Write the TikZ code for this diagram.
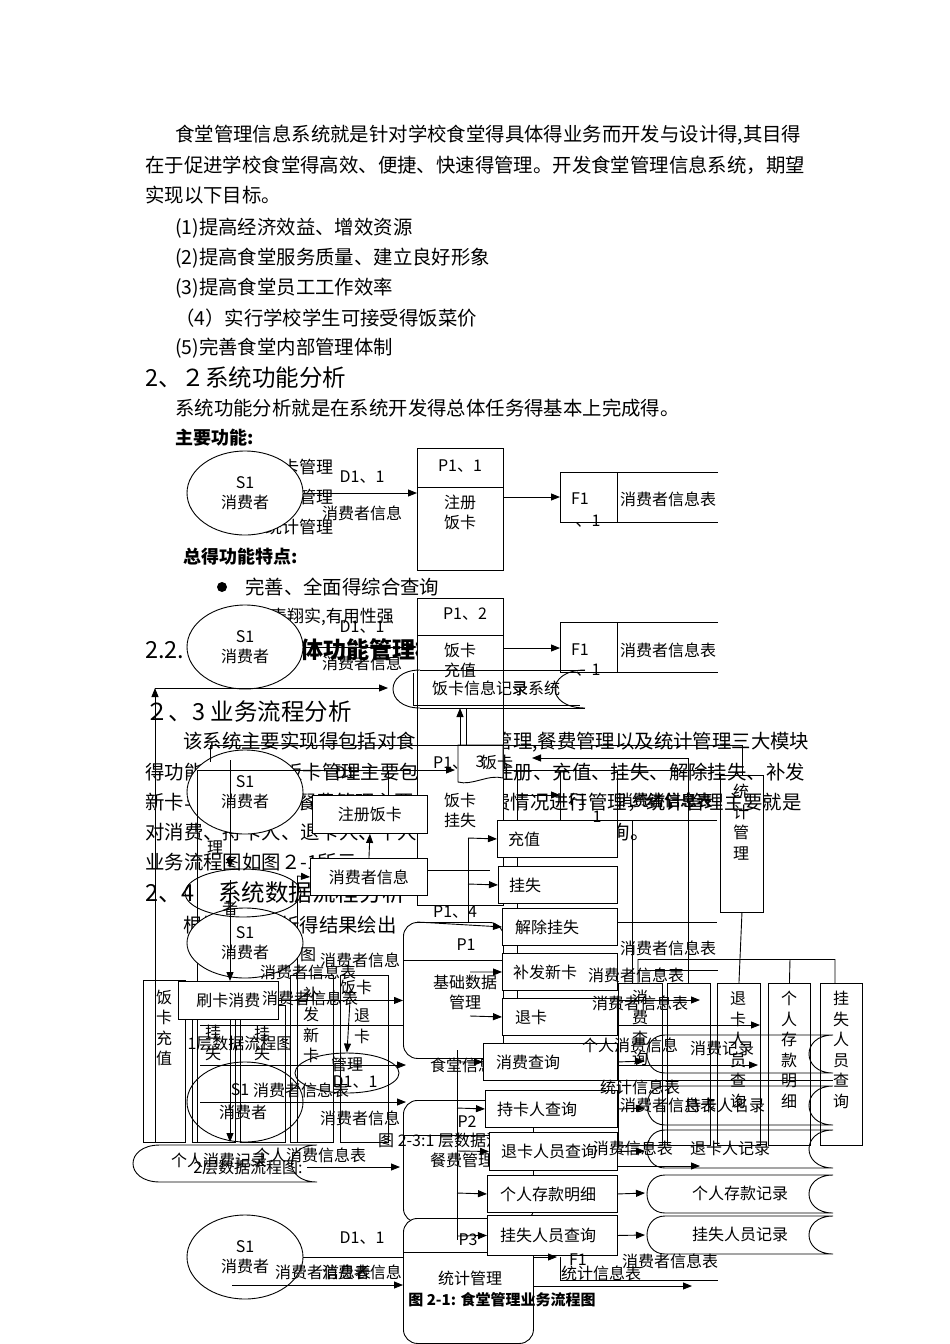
\documentclass[tikz,border=0pt]{standalone}
\usepackage{fontspec}
\setmainfont{Noto Sans CJK SC}
\usetikzlibrary{arrows.meta,shapes.geometric}
\tikzset{
 body/.style={anchor=west,inner sep=0pt,font=\fontsize{19.4}{20}\selectfont},
 head/.style={anchor=west,inner sep=0pt,font=\fontsize{23.5}{24}\selectfont},
 lab/.style={inner sep=0pt,font=\fontsize{16}{20}\selectfont,align=center},
 labw/.style={lab,anchor=west},
 labe/.style={lab,anchor=east},
 vt/.style={lab,font=\fontsize{16}{20.5}\selectfont},
 ln/.style={line width=0.9pt},
 arr/.style={ln,-{Triangle[length=9pt,width=7pt]}},
 wb/.style={draw,ln,fill=white,anchor=north west,inner sep=0pt},
 ob/.style={draw,ln,anchor=north west,inner sep=0pt},
 ell/.style={ellipse,draw,ln,fill=white,minimum width=116,minimum height=84,inner sep=0pt,align=center,font=\fontsize{16}{20}\selectfont},
 oell/.style={ell,fill=none},
 rbox/.style={draw,ln,rounded corners=14pt,anchor=north west,inner sep=0pt,fill=white},
}
\newcommand\BX[5]{\node[wb,minimum width=#4,minimum height=#5] (#1) at (#2,#3) {};}
\newcommand\OB[5]{\node[ob,minimum width=#4,minimum height=#5] (#1) at (#2,#3) {};}
\newcommand\STORE[2]{\draw[ln] (665,#1) .. controls (641,#1) and (641,#2) .. (665,#2) (665,#1) -- (833,#1) (665,#2) -- (833,#2) (833,#1) .. controls (801,#1) and (801,#2) .. (833,#2);}
\begin{document}
\begin{tikzpicture}[x=1pt,y=-1pt]
\fill[white] (0,0) rectangle (950,1344);
\path[use as bounding box] (0,0) rectangle (950,1344);

% ---------------- body text
\node[body] (t1) at (175,135) {食堂管理信息系统就是针对学校食堂得具体得业务而开发与设计得,其目得};
\node[body] (t2) at (145,165) {在于促进学校食堂得高效、便捷、快速得管理。开发食堂管理信息系统，期望};
\node[body] (t3) at (145,195) {实现以下目标。};
\node[body] (t4) at (175,228) {(1)提高经济效益、增效资源};
\node[body] (t5) at (175,258) {(2)提高食堂服务质量、建立良好形象};
\node[body] (t6) at (175,288) {(3)提高食堂员工工作效率};
\node[body] (t7) at (175,318) {（4）实行学校学生可接受得饭菜价};
\node[body] (t8) at (175,348) {(5)完善食堂内部管理体制};
\node[head] (h1) at (145,378) {2、２系统功能分析};
\node[body] (t9) at (175,408) {系统功能分析就是在系统开发得总体任务得基本上完成得。};
\node[body,font=\fontsize{18}{20}\selectfont\bfseries] (t10) at (175,438) {主要功能:};
\node[labw,font=\fontsize{17}{20}\selectfont] (m1) at (265,467) {饭卡管理};
\node[labw,font=\fontsize{17}{20}\selectfont] (m2) at (265,497) {餐费管理};
\node[labw,font=\fontsize{17}{20}\selectfont] (m3) at (265,527) {统计管理};
\node[body,font=\fontsize{18}{20}\selectfont\bfseries] (t11) at (183,557) {总得功能特点:};
\fill (222,587) circle [radius=5];
\node[body] (t12) at (245,587) {完善、全面得综合查询};
\node[body,font=\fontsize{17}{20}\selectfont] (t13) at (270,617) {表翔实,有用性强};
\node[head] (h2a) at (145,650) {2.2.};
\node[head,font=\fontsize{23}{24}\selectfont\bfseries] (h2b) at (300,650) {体功能管理模};
\node[head] (h3) at (145,712) {２、3 业务流程分析};
\node[body] (t14) at (183,742) {该系统主要实现得包括对食堂得饭卡管理,餐费管理以及统计管理三大模块};
\node[body] (t15a) at (145,772) {得功能。其中};
\node[body] (t15b) at (283,772) {饭卡管理主要包括};
\node[body,anchor=east] (t15c) at (805,772) {注册、充值、挂失、解除挂失、补发};
\node[body] (t16a) at (145,802) {新卡与退卡，};
\node[body] (t16b) at (297,802) {餐费管理主要就是对消费情况进行管理，统计管理主要就是};
\node[body] (t17) at (145,832) {对消费、持卡人、退卡人、个人存款、挂失人员等得查询。};
\node[body] (t18) at (145,862) {业务流程图如图２-1所示。};
\node[head] (h4) at (145,893) {2、4　系统数据流程分析};
\node[body] (t19) at (183,925) {根据系统分析得结果绘出};

% ---------------- diagram P1.1
\node[ell] (e1) at (245,493) {S1\\消费者};
\BX{p11}{417}{448}{86}{122}
\draw[ln] (417,487) -- (503,487);
\node[lab] (p11a) at (460,466) {P1、1};
\node[lab] (p11b) at (460,512) {注册\\饭卡};
\coordinate (f1a) at (560,497);
\draw[ln] (718,472) -- (560,472) -- (560,522) -- (718,522) (617,472) -- (617,522);
\draw[arr] (e1.east) -- (e1.east -| p11.west);
\draw[arr] (p11.east |- f1a) -- (f1a);
\node[lab] (d11) at (362,477) {D1、1};
\node[lab] (c11) at (362,513) {消费者信息};
\node[lab] (f11) at (580,499) {F1};
\node[lab] (f11b) at (588,521) {、1};
\node[lab] (f11c) at (668,499) {消费者信息表};

% ---------------- diagram P1.2
\node[ell] (e2) at (245,647) {S1\\消费者};
\BX{p12}{417}{598}{86}{147}
\draw[ln] (417,635) -- (503,635);
\node[lab] (p12a) at (465,614) {P1、2};
\node[lab] (p12b) at (460,660) {饭卡\\充值};
\coordinate (f1b) at (560,648);
\draw[ln] (718,622) -- (560,622) -- (560,672) -- (718,672) (617,622) -- (617,672);
\draw[arr] (e2.east) -- (e2.east -| p12.west);
\draw[arr] (p12.east |- f1b) -- (f1b);
\node[lab] (d12) at (362,627) {D1、1};
\node[lab] (c12) at (362,663) {消费者信息};
\node[lab] (f12) at (580,650) {F1};
\node[lab] (f12b) at (588,670) {、1};
\node[lab] (f12c) at (668,650) {消费者信息表};
\draw[ln] (420,670) .. controls (384,670) and (384,708) .. (420,708);
\draw[ln] (420,670) -- (585,670) (420,708) -- (585,708);
\draw[ln] (413,673) -- (413,705) -- (580,705);
\draw[ln] (585,670) .. controls (545,670) and (545,708) .. (585,708);
\node[labw] (st1) at (432,688) {饭卡信息记录};
\node[labw] (st2) at (512,688) {录系统};
\coordinate (s1in) at (388,688);
\coordinate (lv1) at (155,1142);
\coordinate (lv2) at (155,688);
\draw[arr] (lv1) -- (lv2);
\draw[arr] (lv2) -- (s1in);
\coordinate (u1) at (460,745);
\coordinate (u2) at (460,708);
\draw[arr] (u1) -- (u2);
\draw[ln] (466,708) -- (466,745);

% ---------------- diagram P1.3
\node[ell] (e3) at (245,792) {S1\\消费者};
\BX{p13}{417}{745}{86}{160}
\node[lab] (p13b) at (460,810) {饭卡\\挂失};
\node[labw] (p13a) at (433,763) {P1、};
\draw[ln,fill=white] (458,745) -- (503,745) -- (503,778) .. controls (488,774) and (472,786) .. (458,782) -- cycle;
\node[lab] (p13c) at (480,762) {3};
\node[lab] (p13d) at (497,762) {饭卡};
\draw[ln] (210,745) -- (742,745) -- (742,775);
\draw[ln] (210,745) -- (210,762);
\draw[arr] (197,770) -- (455,770);
\draw[ln] (197,770) -- (197,1142);
\draw[arr] (230,760) -- (230,868);
\draw[ln] (388,770) -- (388,795);
\draw[ln] (503,770) -- (720,770);
\draw[ln] (517,770) -- (517,1000);
\draw[ln] (560,770) -- (560,820);
\draw[ln] (617,770) -- (617,820);
\draw[ln] (517,820) -- (717,820);
\draw[ln] (632,820) -- (632,983);
\draw[ln] (688,758) -- (688,983);
\draw[arr] (688,758) -- (532,758);
\draw[arr] (517,795) -- (560,795);
\draw[ln] (468,838) -- (468,1010);
\BX{zc}{312}{795}{115}{38}
\node[lab] (zct) at (zc) {注册饭卡};
\BX{xx}{310}{858}{117}{37}
\node[lab] (xxt) at (xx) {消费者信息};
\draw[arr] (xx.north) -- (zc.south);
\coordinate (a1) at (297,876);
\draw[arr] (a1) -- (xx.west);
\draw[ln] (297,876) -- (297,1142);
\draw[ln] (427,870) -- (490,870);
\BX{cz}{497}{820}{120}{37}
\node[labw] (czt) at ([xshift=11pt]cz.west) {充值};
\BX{gs}{498}{866}{119}{37}
\node[labw] (gst) at ([xshift=11pt]gs.west) {挂失};
\coordinate (a2) at (468,838);
\coordinate (a3) at (468,884);
\draw[arr] (a2) -- (cz.west);
\draw[arr] (a3) -- (gs.west);
\OB{tj}{720}{775}{43}{137}
\node[vt] (tjt) at (741,822) {统\\计\\管\\理};
\node[lab] (f13) at (578,800) {F1};
\node[lab] (f13b) at (597,817) {1};
\node[lab] (f13c) at (665,800) {消费者信息表};
\node[lab] (f13d) at (672,800) {统计信息表};
\node[lab] (d13) at (345,773) {D1};
\node[lab] (li) at (215,848) {理};

% ---------------- lower-left (1st level DFD)
\node[ell,minimum height=70] (e4) at (245,943) {S1\\消费者};
\node[oell,minimum width=116,minimum height=48] (e5) at (243,893) {};
\node[lab] (e5t) at (230,908) {者};
\OB{fkcz}{143}{980}{42}{162}
\node[vt] (fkczt) at (164,1028) {饭\\卡\\充\\值};
\OB{vgs}{192}{1005}{43}{137}
\node[vt] (vgst) at (213,1043) {挂\\失};
\OB{vjc}{240}{1005}{45}{137}
\node[vt] (vjct) at (262,1033) {除\\挂\\失};
\OB{vbf}{290}{975}{43}{167}
\node[vt] (vbft) at (311,1025) {补\\发\\新\\卡};
\OB{vtk}{340}{975}{48}{167}
\node[lab] (vtkt) at (356,987) {饭卡};
\node[vt] (vtkt2) at (362,1026) {退\\卡};
\BX{skxf}{178}{981}{100}{38}
\node[lab] (skxft) at (skxf) {刷卡消费};
\draw[arr] (230,880) -- (skxf.north -| 230,0);
\draw[arr] (230,1020) -- (230,1142);
\node[oell,minimum width=104,minimum height=40] (gl) at (347,1073) {};
\node[lab] (glt) at (347,1064) {管理};
\node[lab] (gld) at (355,1082) {D1、1};
\node[oell,minimum height=80] (e6) at (245,1102) {};
\node[lab] (e6a) at (240,1090) {S1};
\node[lab] (e6b) at (243,1112) {消费者};
\node[labw] (e6c) at (253,1090) {消费者信息表};
\node[lab] (c14) at (360,1118) {消费者信息};
\node[lab] (l1c) at (240,1043) {1层数据流程图};
\node[lab] (tu1) at (308,955) {图};
\node[lab] (c15) at (360,960) {消费者信息};
\node[lab] (c16) at (308,972) {消费者信息表};
\node[labw] (c17) at (262,998) {消费者信息表};
\draw[arr] (350,1000) -- (gl.north);

% ---------------- store 个人消费记录
\draw[ln] (160,1145) .. controls (124,1145) and (124,1182) .. (160,1182) (160,1145) -- (317,1145) (160,1182) -- (317,1182) (317,1145) .. controls (283,1145) and (283,1182) .. (317,1182);
\node[lab] (grxf) at (219,1160) {个人消费记录};
\node[lab] (grxf2) at (310,1155) {个人消费信息表};
\node[lab] (l2c) at (248,1167) {2层数据流程图:};

% ---------------- process boxes P1.4 / P2 / P3
\node[rbox,minimum width=100,minimum height=136] (jc) at (403,922) {};
\draw[ln] (403,960) -- (503,960);
\node[labw] (p14a) at (433,912) {P1、4};
\node[lab] (p14b) at (466,945) {P1};
\node[lab] (p14c) at (465,992) {基础数据\\管理};
\node[rbox,minimum width=130,minimum height=122] (cf) at (403,1100) {};
\draw[ln] (403,1135) -- (489,1135);
\node[lab] (p2a) at (467,1122) {P2};
\node[labw] (p2b) at (430,1160) {餐费管理};
\node[labw] (stx) at (430,1065) {食堂信息};
\node[labw] (cap2) at (378,1140) {图 2-3:1 层数据流程图};
\node[rbox,minimum width=130,minimum height=125] (tg) at (403,1218) {};
\draw[ln] (403,1252) -- (533,1252);
\node[lab] (p3a) at (468,1240) {P3};
\node[lab] (p3b) at (470,1278) {统计管理};

% arrows into base data boxes from the left
\coordinate (b1) at (200,1065);
\coordinate (b2) at (200,1102);
\coordinate (b3) at (307,1167);
\draw[arr] (b1) -- (406,1065);
\draw[arr] (b2) -- (406,1102);
\draw[arr] (b3) -- (400,1167);
\draw[arr] (skxf.east) -- (skxf.east -| jc.west);
\draw[ln] (200,1025) -- (403,1025);
\draw[ln] (457,1050) -- (457,1240);

% right column of query boxes
\BX{jcgs}{502}{908}{115}{37}
\node[labw] (jcgst) at ([xshift=13pt]jcgs.west) {解除挂失};
\BX{bfxk}{502}{953}{115}{37}
\node[labw] (bfxkt) at ([xshift=11pt]bfxk.west) {补发新卡};
\BX{tk}{502}{998}{115}{37}
\node[labw] (tkt) at ([xshift=13pt]tk.west) {退卡};
\BX{xfcx}{483}{1043}{134}{37}
\node[labw] (xfcxt) at ([xshift=13pt]xfcx.west) {消费查询};
\BX{ckr}{485}{1090}{132}{37}
\node[labw] (ckrt) at ([xshift=12pt]ckr.west) {持卡人查询};
\BX{tkry}{489}{1132}{128}{38}
\node[labw] (tkryt) at ([xshift=12pt]tkry.west) {退卡人员查询};
\BX{grck}{487}{1175}{130}{37}
\node[labw] (grckt) at ([xshift=13pt]grck.west) {个人存款明细};
\BX{gsry}{487}{1215}{130}{40}
\node[labw] (gsryt) at ([xshift=13pt]gsry.west) {挂失人员查询};
\coordinate (q0) at (417,922);
\coordinate (q1) at (470,972);
\coordinate (q2) at (470,1016);
\coordinate (q3) at (457,1062);
\coordinate (q4) at (457,1108);
\coordinate (q5) at (457,1151);
\coordinate (q6) at (457,1193);
\coordinate (q7) at (457,1236);
\draw[arr] (q0) -- (jcgs.west);
\draw[arr] (q1) -- (bfxk.west);
\draw[arr] (q2) -- (tk.west);
\draw[arr] (q3) -- (xfcx.west);
\draw[arr] (q4) -- (ckr.west);
\draw[arr] (q5) -- (tkry.west);
\draw[arr] (q6) -- (grck.west);
\draw[arr] (q7) -- (gsry.west);

% right side vertical boxes
\draw[ln] (617,922) -- (717,922);
\draw[ln] (638,959) -- (835,959);
\draw[ln] (638,970) -- (718,970);
\OB{v1}{618}{983}{44}{162}
\OB{v2}{667}{983}{43}{162}
\OB{v3}{717}{983}{43}{162}
\OB{v4}{768}{983}{42}{162}
\OB{v5}{820}{983}{42}{162}
\draw[ln] (tj.south) -- (v3.north);
\draw[ln] (638,959) -- (638,983) (790,959) -- (v4.north) (835,959) -- (835,983);
\node[vt] (v1t) at (640,1028) {消\\费\\查\\询};
\node[vt] (v3t) at (738,1050) {退\\卡\\人\\员\\查\\询};
\node[vt] (v4t) at (789,1050) {个\\人\\存\\款\\明\\细};
\node[vt] (v5t) at (841,1050) {挂\\失\\人\\员\\查\\询};

% data stores on the right
\STORE{1035}{1073}
\STORE{1086}{1125}
\STORE{1130}{1168}
\STORE{1175}{1213}
\STORE{1216}{1254}
\node[lab] (r1) at (722,1048) {消费记录};
\node[lab] (r2) at (725,1105) {持卡人名录};
\node[lab] (r3) at (730,1148) {退卡人记录};
\node[lab] (r4) at (740,1193) {个人存款记录};
\node[lab] (r5) at (740,1234) {挂失人员记录};
\node[lab] (r6) at (668,948) {消费者信息表};
\node[lab] (r7) at (636,975) {消费者信息表};
\node[lab] (r8) at (640,1003) {消费者信息表};
\node[lab] (r9) at (630,1045) {个人消费信息};
\node[lab] (r10) at (640,1087) {统计信息表};
\node[lab] (r11) at (668,1105) {消费者信息表};
\node[labe] (r12) at (673,1148) {消费信息表};

\coordinate (w1) at (700,1000);
\coordinate (w2) at (760,1025);
\coordinate (w3) at (758,1065);
\coordinate (w4) at (700,1166);
\draw[arr] (tk.east |- w1) -- (w1);
\draw[arr] (tk.east |- w2) -- (w2);
\draw[arr] (xfcx.east |- w3) -- (w3);
\draw[arr] (tkry.east |- w4) -- (w4);
\draw[arr] (xfcx.east) -- (645,1061);
\draw[arr] (ckr.east) -- (645,1108);
\draw[arr] (tkry.east) -- (645,1151);
\draw[arr] (grck.east) -- (645,1193);
\draw[arr] (gsry.east) -- (645,1235);
\draw[ln] (617,1080) -- (833,1080);

% ---------------- bottom S1 -> P3
\node[oell] (e7) at (245,1257) {S1\\消费者};
\draw[ln] (e7.east) -- (e7.east -| tg.west);
\coordinate (b4) at (232,1285);
\draw[arr] (b4) -- (b4 -| tg.west);
\node[lab] (d17) at (362,1238) {D1、1};
\node[labw] (c18) at (275,1272) {消费者信息表};
\node[labe] (c19) at (402,1272) {消费者信息};
\coordinate (f4) at (557,1257);
\draw[arr] (tg.east |- f4) -- (f4);
\draw[ln] (560,1257) -- (560,1280) -- (718,1280);
\coordinate (f5) at (692,1286);
\draw[arr] (tg.east |- f5) -- (f5);
\node[lab] (f17) at (578,1260) {F1};
\node[lab] (f17b) at (670,1261) {消费者信息表};
\node[lab] (f17c) at (601,1273) {统计信息表};
\node[lab,font=\fontsize{15}{18}\selectfont\bfseries] (cap) at (502,1300) {图 2-1: 食堂管理业务流程图};
\end{tikzpicture}
\end{document}
